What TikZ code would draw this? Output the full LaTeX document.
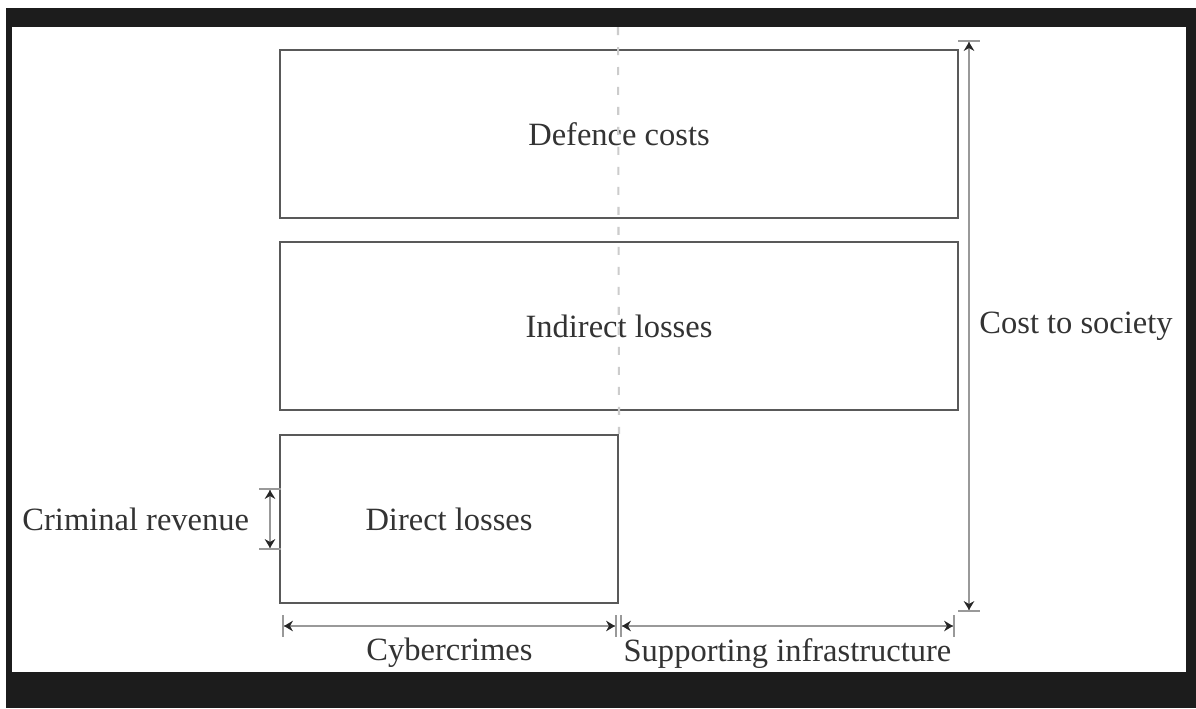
\documentclass[tikz,border=0pt]{standalone}
\usepackage{fontspec}
\setmainfont{Liberation Serif}
\usetikzlibrary{arrows.meta}

\begin{document}
\begin{tikzpicture}[
	x = 0.02cm, y = -0.02cm,
	every node/.style = {text = black!80, font = \fontsize{18.5}{22}\selectfont},
	box/.style = {draw = black!65, line width = 1.2pt, minimum height = 3.36cm, inner sep = 0pt},
	dim/.style = {draw = black!40, line width = 1.2pt,
		{Bar[width = 12pt] Stealth[length = 5pt, width = 6pt, color = black!85]}-{Stealth[length = 5pt, width = 6pt, color = black!85] Bar[width = 12pt]}},
	split/.style = {draw = black!20, line width = 1.2pt, dash pattern = on 0.16cm off 0.24cm}
	]
	\useasboundingbox (0,0) rectangle (1196,708);
	\fill[black!89] (6,8) rectangle (1196,708);
	\fill[white] (12,27) rectangle (1186,672);

	\node[box, minimum width = 13.56cm] (defence) at (619,134) {Defence costs};
	\node[box, minimum width = 13.56cm] (indirect) at (619,326) {Indirect losses};
	\node[box, minimum width = 6.76cm] (direct) at (449,519) {Direct losses};

	\coordinate (top) at (618,27);
	\draw[split] (top) -- (direct.north east);

	\coordinate (society top) at (969,40);
	\coordinate (society bottom) at (969,612);
	\draw[dim] (society top) -- node[right = 2pt] (society) {Cost to society} (society bottom);

	\coordinate (revenue top) at (270,488);
	\coordinate (revenue bottom) at (270,550);
	\draw[dim] (revenue top) -- node[left = 8pt] (revenue) {Criminal revenue} (revenue bottom);

	\coordinate (cyber left) at (282,626);
	\coordinate (cyber right) at (617,626);
	\coordinate (infra left) at (620,626);
	\coordinate (infra right) at (955,626);
	\draw[dim] (cyber left) -- node[below = 3pt] (cyber) {Cybercrimes} (cyber right);
	\draw[dim] (infra left) -- node[below = 3pt] (infra) {Supporting infrastructure} (infra right);
\end{tikzpicture}
\end{document}
